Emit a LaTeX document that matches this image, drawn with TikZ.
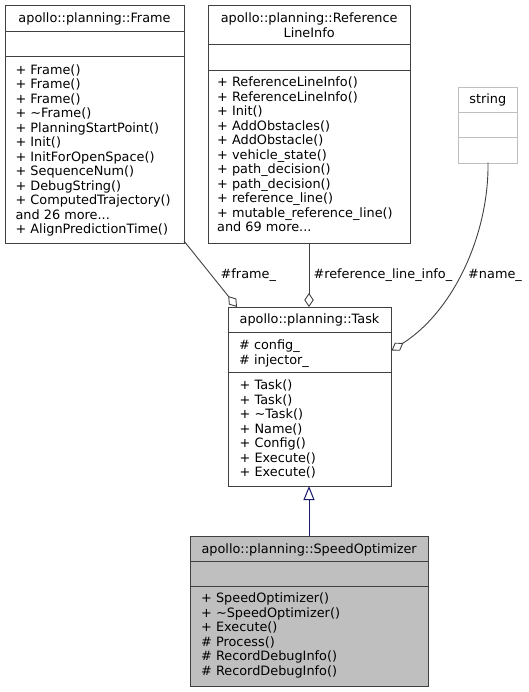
\documentclass[tikz,border=0pt]{standalone}
\usepackage{fontspec}
\setmainfont{DejaVu Sans}
\usetikzlibrary{arrows.meta}
\definecolor{boxline}{HTML}{404040}
\definecolor{lightline}{HTML}{BFBFBF}
\definecolor{fillgray}{HTML}{BFBFBF}
\definecolor{inhblue}{HTML}{191970}
\newcommand\mydots{...}
\begin{document}
\begin{tikzpicture}[x=1pt,y=-1pt,
  box/.style={draw=boxline, line width=1pt, inner sep=0pt, anchor=north west},
  lightbox/.style={draw=lightline, line width=1pt, inner sep=0pt, anchor=north west},
  divider/.style={draw=boxline, line width=1pt},
  lightdivider/.style={draw=lightline, line width=1pt},
  txt/.style={inner sep=0pt, anchor=base west, font=\fontsize{12.85}{14.5}\selectfont},
  ctxt/.style={inner sep=0pt, anchor=base, font=\fontsize{12.85}{14.5}\selectfont},
  agg/.style={draw=boxline, line width=0.9pt, -{Diamond[open,length=14pt,width=9.5pt,line width=0.9pt]}},
  inh/.style={draw=inhblue, line width=1pt, -{Triangle[open,length=14pt,width=11pt,line width=1pt]}}]
\useasboundingbox (0,0) rectangle (529,692);

% ---------- Frame ----------
\node[box, minimum width=179pt, minimum height=238pt] (frame) at (5,5) {};
\draw[divider] (5,31.7) -- (184,31.7);
\draw[divider] (5,56.7) -- (184,56.7);
\node[ctxt] (frameh) at (94.5,22.5) {apollo::planning::Frame};
\foreach [count=\i] \t in {+ Frame(), + Frame(), + Frame(), + \textasciitilde{}Frame(),
  + PlanningStartPoint(), + Init(), + InitForOpenSpace(), + SequenceNum(),
  + DebugString(), + ComputedTrajectory(), {and 26 more\mydots}, + AlignPredictionTime()}
  \node[txt] (fm\i) at (15.4,{60+14.5*\i}) {\t};

% ---------- ReferenceLineInfo ----------
\node[box, minimum width=201.7pt, minimum height=237.7pt] (refl) at (208.3,5) {};
\draw[divider] (208.3,45) -- (410,45);
\draw[divider] (208.3,70.7) -- (410,70.7);
\node[ctxt] (reflh1) at (309.15,22.7) {apollo::planning::Reference};
\node[ctxt] (reflh2) at (309.15,37.5) {LineInfo};
\foreach [count=\i] \t in {+ ReferenceLineInfo(), + ReferenceLineInfo(), + Init(),
  + AddObstacles(), + AddObstacle(), + vehicle\_state(), + path\_decision(),
  + path\_decision(), + reference\_line(), + mutable\_reference\_line(), {and 69 more\mydots}}
  \node[txt] (rm\i) at (217,{72.5+14.5*\i}) {\t};

% ---------- string ----------
\node[lightbox, minimum width=59pt, minimum height=76pt] (str) at (458.3,86.7) {};
\draw[lightdivider] (458.3,112.3) -- (517.3,112.3);
\draw[lightdivider] (458.3,137.3) -- (517.3,137.3);
\node[ctxt] (strh) at (487.8,103.5) {string};

% ---------- Task ----------
\node[box, minimum width=163pt, minimum height=179pt] (task) at (228,307) {};
\draw[divider] (228,332.3) -- (391,332.3);
\draw[divider] (228,372.3) -- (391,372.3);
\node[ctxt] (taskh) at (309.5,323.5) {apollo::planning::Task};
\node[txt] (ta1) at (239,349.5) {\# config\_};
\node[txt] (ta2) at (239,364) {\# injector\_};
\foreach [count=\i] \t in {+ Task(), + Task(), + \textasciitilde{}Task(), + Name(),
  + Config(), + Execute(), + Execute()}
  \node[txt] (tm\i) at (239.5,{375.2+14.5*\i}) {\t};

% ---------- SpeedOptimizer ----------
\node[box, fill=fillgray, minimum width=238.3pt, minimum height=149.5pt] (spd) at (190,536) {};
\draw[divider] (190,561) -- (428.3,561);
\draw[divider] (190,586) -- (428.3,586);
\node[ctxt] (spdh) at (309.15,553.8) {apollo::planning::SpeedOptimizer};
\foreach [count=\i] \t in {+ SpeedOptimizer(), + \textasciitilde{}SpeedOptimizer(), + Execute(),
  \# Process(), \# RecordDebugInfo(), \# RecordDebugInfo()}
  \node[txt] (sm\i) at (201,{588+14.5*\i}) {\t};

% ---------- connectors ----------
\coordinate (frameout) at (184,241);
\coordinate (taskinA) at (237,307);
\draw[agg] (frameout) -- (taskinA);
\node[txt] (lframe) at (220.5,278.5) {\#frame\_};

\coordinate (reflout) at (309,242.7);
\coordinate (taskinB) at (309,307);
\draw[agg] (reflout) -- (taskinB);
\node[txt] (lrefl) at (313.3,278.5) {\#reference\_line\_info\_};

\coordinate (strout) at (488,162.7);
\coordinate (taskinC) at (391.5,350.5);
\draw[agg] (strout) .. controls (489,232) and (455,310) .. (taskinC);
\node[txt] (lname) at (468,278.5) {\#name\_};

\coordinate (spdout) at (309,536);
\coordinate (taskbot) at (309,486);
\draw[inh] (spdout) -- (taskbot);
\end{tikzpicture}
\end{document}
